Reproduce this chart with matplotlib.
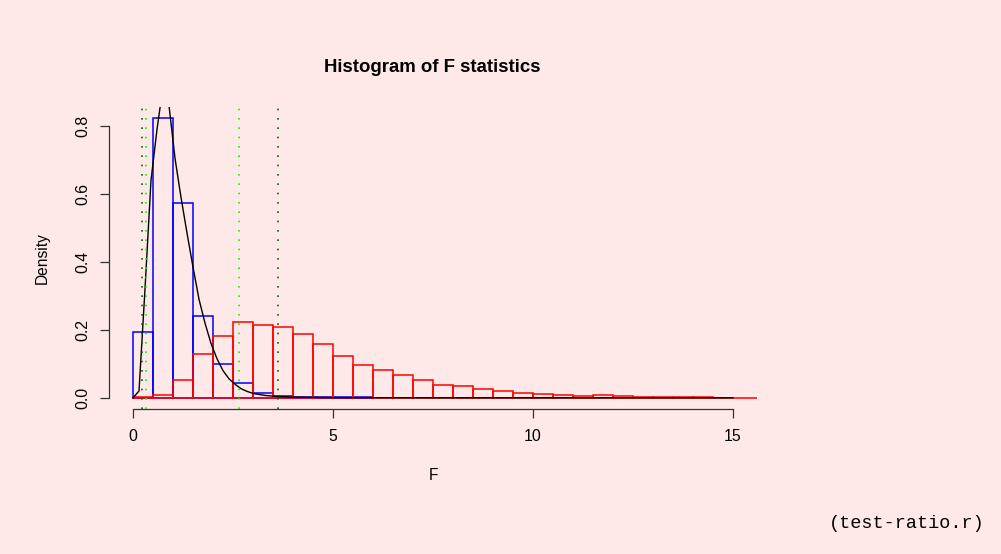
import numpy as np
import matplotlib.pyplot as plt

# histogram densities, bins of width 0.5 starting at 0
blue_dens = [0.195, 0.823, 0.572, 0.242, 0.099, 0.043, 0.014, 0.006,
             0.003, 0.002, 0.001, 0.001]
red_dens = [0.001, 0.009, 0.051, 0.130, 0.183, 0.224, 0.215, 0.209,
            0.189, 0.157, 0.122, 0.096, 0.081, 0.067, 0.053, 0.038,
            0.034, 0.026, 0.019, 0.013, 0.012, 0.009, 0.006, 0.007,
            0.004, 0.001, 0.001, 0.003, 0.001, 0.0005, 0.0005, 0.0003]
bin_width = 0.5

# density curve
curve_x = [0, 0.15, 0.30, 0.45, 0.60, 0.75, 0.90, 1.05, 1.20, 1.35, 1.50,
           1.65, 1.80, 1.95, 2.10, 2.25, 2.40, 2.55, 2.70, 2.85, 3.00,
           3.30, 3.60, 4.00, 5.00, 7.00, 15.0]
curve_y = [0, 0.02, 0.32, 0.64, 0.79, 0.916, 0.86, 0.705, 0.59, 0.485, 0.385,
           0.29, 0.22, 0.16, 0.115, 0.08, 0.056, 0.04, 0.027, 0.019, 0.013,
           0.007, 0.004, 0.002, 0.0005, 0.0001, 0]

# quantile lines
dark_lines = [0.233, 3.63]
light_lines = [0.333, 2.64]

x_ticks = [0, 5, 10, 15]
y_ticks = [0.0, 0.2, 0.4, 0.6, 0.8]

bg = '#ffe8e8'
plt.rcParams['font.family'] = ['Liberation Sans', 'DejaVu Sans']

fig = plt.figure(figsize=(10.01, 5.54), dpi=100, facecolor=bg)
ax = fig.add_axes([109/1001, 1 - 409/554, 648/1001, 302/554])
ax.set_facecolor(bg)

bx = np.arange(len(blue_dens)) * bin_width
rx = np.arange(len(red_dens)) * bin_width
ax.bar(bx, blue_dens, width=bin_width, align='edge', fill=False,
       edgecolor='#0000ff', linewidth=1.1, zorder=1)
ax.bar(rx, red_dens, width=bin_width, align='edge', fill=False,
       edgecolor='#ff0000', linewidth=1.1, zorder=2)
ax.plot(curve_x, curve_y, color='black', linewidth=1.0, zorder=3)

for v in dark_lines:
    ax.axvline(v, color='#006400', linewidth=1.2, linestyle=(0, (1, 4.6)), zorder=4)
for v in light_lines:
    ax.axvline(v, color='#00ff00', linewidth=1.2, linestyle=(0, (1, 4.6)), zorder=4)

ymax = max(blue_dens)
ax.set_xlim(-0.6, 15.6)
ax.set_ylim(-0.04 * ymax, 1.04 * ymax)

for s in ['top', 'right']:
    ax.spines[s].set_visible(False)
ax.spines['bottom'].set_bounds(0, 15)
ax.spines['left'].set_bounds(0, 0.8)
for s in ['bottom', 'left']:
    ax.spines[s].set_color('#333333')
    ax.spines[s].set_linewidth(0.9)

ax.set_xticks(x_ticks)
ax.set_xticklabels([str(t) for t in x_ticks])
ax.set_yticks(y_ticks)
ax.set_yticklabels(['%.1f' % t for t in y_ticks], rotation=90, va='center')
ax.tick_params(axis='both', direction='out', length=6.5, width=0.9,
               color='#333333', labelsize=11.4)
ax.tick_params(axis='x', pad=8)
ax.tick_params(axis='y', pad=7)

fig.text(432/1001, 1 - 68/554, 'Histogram of F statistics', ha='center',
         va='center', fontsize=13.4, fontweight='bold')
fig.text(433/1001, 1 - 476/554, 'F', ha='center', va='center', fontsize=11.2)
fig.text(42/1001, 1 - 258/554, 'Density', ha='center', va='center',
         rotation=90, fontsize=11.2)
fig.text(985/1001, 1 - 524/554, '(test-ratio.r)', ha='right', va='center',
         fontsize=13.3, family=['Liberation Mono', 'DejaVu Sans Mono'])

fig.savefig('out.png', dpi=100, facecolor=bg)
